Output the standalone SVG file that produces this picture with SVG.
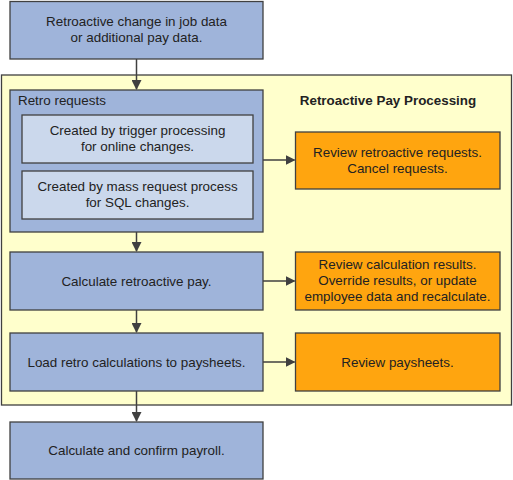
<svg xmlns="http://www.w3.org/2000/svg" width="513" height="480" viewBox="0 0 513 480">
<style>
.b{fill:#9fb4da;stroke:#404040;stroke-width:1.3}
.l{fill:#cbd8ec;stroke:#404040;stroke-width:1.3}
.o{fill:#ffa50f;stroke:#404040;stroke-width:1.3}
.c{fill:#ffffcc;stroke:#404040;stroke-width:1.3}
text{font-family:"Liberation Sans",Arial,sans-serif;font-size:13.4px;fill:#222}
.m{text-anchor:middle}
.t{font-weight:bold}
.e{stroke:#404040;stroke-width:1.5;fill:none;marker-end:url(#a)}
</style>
<defs>
<marker id="a" markerWidth="10" markerHeight="10" refX="9" refY="5" orient="auto" markerUnits="userSpaceOnUse">
<path d="M0,0 L10,5 L0,10 Z" fill="#404040"/>
</marker>
</defs>
<g id="container">
<rect class="c" x="1.5" y="75" width="510" height="330"/>
<text class="t" x="388" y="105" text-anchor="middle">Retroactive Pay Processing</text>
</g>
<g id="n1">
<rect class="b" x="10" y="1.5" width="253" height="57.5"/>
<text class="m" x="136.5" y="26">Retroactive change in job data</text>
<text class="m" x="136.5" y="42">or additional pay data.</text>
</g>
<g id="retro">
<rect class="b" x="10" y="90" width="253" height="142"/>
<text x="18" y="105">Retro requests</text>
</g>
<g id="trigger">
<rect class="l" x="22" y="115" width="231" height="48"/>
<text class="m" x="137.5" y="135">Created by trigger processing</text>
<text class="m" x="137.5" y="151">for online changes.</text>
</g>
<g id="mass">
<rect class="l" x="22" y="171" width="231" height="48"/>
<text class="m" x="137.5" y="191">Created by mass request process</text>
<text class="m" x="137.5" y="207">for SQL changes.</text>
</g>
<g id="review1">
<rect class="o" x="295.5" y="132" width="204.5" height="57"/>
<text class="m" x="397.5" y="157">Review retroactive requests.</text>
<text class="m" x="397.5" y="173">Cancel requests.</text>
</g>
<g id="calc">
<rect class="b" x="10" y="252" width="253" height="58"/>
<text class="m" x="136.5" y="286">Calculate retroactive pay.</text>
</g>
<g id="review2">
<rect class="o" x="295.5" y="252" width="204.5" height="58"/>
<text class="m" x="397.5" y="269">Review calculation results.</text>
<text class="m" x="397.5" y="285">Override results, or update</text>
<text class="m" x="397.5" y="301">employee data and recalculate.</text>
</g>
<g id="load">
<rect class="b" x="10" y="333" width="253" height="58"/>
<text class="m" x="136.5" y="367">Load retro calculations to paysheets.</text>
</g>
<g id="review3">
<rect class="o" x="295.5" y="333" width="204.5" height="58"/>
<text class="m" x="397.5" y="367">Review paysheets.</text>
</g>
<g id="final">
<rect class="b" x="10" y="422" width="253" height="57"/>
<text class="m" x="136.5" y="455">Calculate and confirm payroll.</text>
</g>
<g id="connectors">
<path class="e" d="M136.5,59 V89"/>
<path class="e" d="M136.5,232 V251"/>
<path class="e" d="M136.5,310 V332"/>
<path class="e" d="M136.5,391 V421"/>
<path class="e" d="M263,160 H294.5"/>
<path class="e" d="M263,281 H294.5"/>
<path class="e" d="M263,362 H294.5"/>
</g>
</svg>
